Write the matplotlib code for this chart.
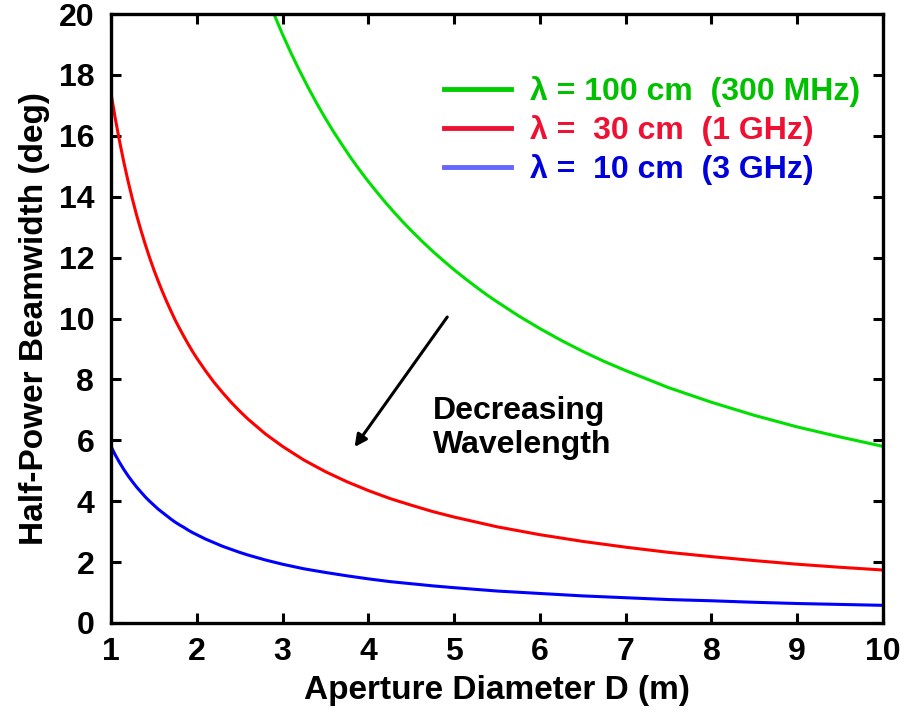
import matplotlib
matplotlib.use("Agg")
import matplotlib.pyplot as plt
from matplotlib.lines import Line2D

plt.rcParams['font.family'] = ['Liberation Sans', 'DejaVu Sans']
plt.rcParams['font.weight'] = 'bold'

# Aperture diameter (m)
D = [1.0, 1.05, 1.1, 1.15, 1.2, 1.25, 1.3, 1.35, 1.4, 1.45, 1.5, 1.55, 1.6,
     1.65, 1.7, 1.75, 1.8, 1.85, 1.9, 1.95, 2.0, 2.1, 2.2, 2.3, 2.4, 2.5,
     2.6, 2.8, 3.0, 3.25, 3.5, 3.75, 4.0, 4.25, 4.5, 4.75, 5.0, 5.5, 6.0,
     6.5, 7.0, 7.5, 8.0, 8.5, 9.0, 9.5, 10.0]
D_green = [2.8, 2.9, 3.0, 3.1, 3.2, 3.3, 3.4, 3.5, 3.6, 3.7, 3.8, 3.9, 4.0,
           4.1, 4.2, 4.3, 4.4, 4.5, 4.625, 4.75, 4.875, 5.0, 5.125, 5.25,
           5.375, 5.5, 5.75, 6.0, 6.25, 6.5, 6.75, 7.0, 7.5, 8.0, 8.5, 9.0,
           9.5, 10.0]

# Half-power beamwidth (deg)
bw_100cm = [20.71, 20.00, 19.33, 18.71, 18.13, 17.58, 17.06, 16.57, 16.11,
            15.68, 15.26, 14.87, 14.50, 14.15, 13.81, 13.49, 13.18, 12.89,
            12.54, 12.21, 11.90, 11.60, 11.32, 11.05, 10.79, 10.55, 10.09,
            9.67, 9.28, 8.92, 8.59, 8.29, 7.73, 7.25, 6.82, 6.44, 6.11, 5.80]
bw_30cm = [17.40, 16.57, 15.82, 15.13, 14.50, 13.92, 13.38, 12.89, 12.43,
           12.00, 11.60, 11.23, 10.88, 10.55, 10.24, 9.94, 9.67, 9.41, 9.16,
           8.92, 8.70, 8.29, 7.91, 7.57, 7.25, 6.96, 6.69, 6.21, 5.80, 5.35,
           4.97, 4.64, 4.35, 4.09, 3.87, 3.66, 3.48, 3.16, 2.90, 2.68, 2.49,
           2.32, 2.18, 2.05, 1.93, 1.83, 1.74]
bw_10cm = [5.80, 5.52, 5.27, 5.04, 4.83, 4.64, 4.46, 4.30, 4.14, 4.00, 3.87,
           3.74, 3.63, 3.52, 3.41, 3.31, 3.22, 3.14, 3.05, 2.97, 2.90, 2.76,
           2.64, 2.52, 2.42, 2.32, 2.23, 2.07, 1.93, 1.78, 1.66, 1.55, 1.45,
           1.36, 1.29, 1.22, 1.16, 1.05, 0.97, 0.89, 0.83, 0.77, 0.73, 0.68,
           0.64, 0.61, 0.58]

labels = ["λ = 100 cm  (300 MHz)", "λ =  30 cm  (1 GHz)", "λ =  10 cm  (3 GHz)"]
line_colors = ["#00e000", "#ff0000", "#0000ff"]
legend_line_colors = ["#00cc00", "#ee1133", "#6666ff"]
text_colors = ["#00c000", "#ee1133", "#0000dd"]

fig = plt.figure(figsize=(9.09, 7.12), dpi=100)
ax = fig.add_axes([0.1221, 0.125, 0.8493, 0.8553])

ax.plot(D_green, bw_100cm, color=line_colors[0], lw=2.2)
ax.plot(D, bw_30cm, color=line_colors[1], lw=2.2)
ax.plot(D, bw_10cm, color=line_colors[2], lw=2.2)

ax.set_xlim(1, 10)
ax.set_ylim(0, 20)
ax.set_xticks(range(1, 11))
ax.set_yticks(range(0, 21, 2))
ax.tick_params(direction='in', length=7, width=2.2, top=True, right=True,
               labelsize=23)
ax.tick_params(axis='x', pad=10)
ax.tick_params(axis='y', pad=12)
for lab in ax.get_xticklabels() + ax.get_yticklabels():
    lab.set_fontweight('bold')
for s in ax.spines.values():
    s.set_linewidth(2.4)

ax.set_xlabel("Aperture Diameter D (m)", fontsize=24, fontweight='bold', labelpad=6)
ax.set_ylabel("Half-Power Beamwidth (deg)", fontsize=24, fontweight='bold', labelpad=6)

handles = [Line2D([], [], color=c, lw=3.5) for c in legend_line_colors]
leg = ax.legend(handles, labels, loc='upper right', bbox_to_anchor=(0.995, 0.929),
                frameon=False, handlelength=2.1, handletextpad=0.6,
                labelspacing=0.25, borderaxespad=0.2,
                prop={'weight': 'bold', 'size': 23})
for t, c in zip(leg.get_texts(), text_colors):
    t.set_color(c)

ax.annotate("", xy=(3.84, 5.78), xytext=(4.92, 10.05),
            arrowprops=dict(arrowstyle='-|>', color='black', lw=2.2,
                            mutation_scale=18, shrinkA=0, shrinkB=0))
ax.text(4.75, 6.4, "Decreasing\nWavelength", fontsize=23, fontweight='bold',
        ha='left', va='center', linespacing=1.15)

fig.savefig("out.png", dpi=100)
